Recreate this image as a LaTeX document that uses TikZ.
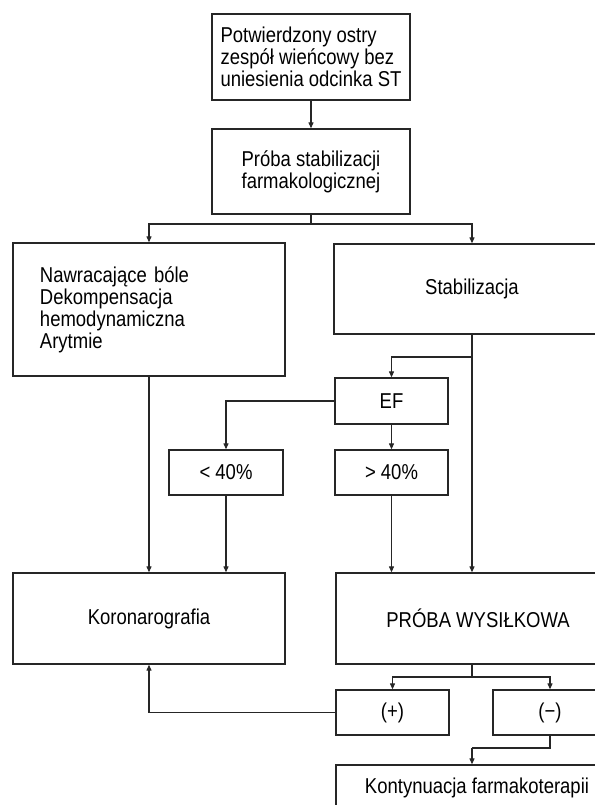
\documentclass[tikz,border=0pt]{standalone}
\usepackage{fontspec}
\setmainfont{Liberation Sans}[FakeStretch=0.86]
\usetikzlibrary{arrows.meta,positioning}
\definecolor{ln}{gray}{0.15}
\tikzset{
  box/.style={draw=ln, line width=1.3bp, inner sep=0pt, anchor=center,
    font=\fontsize{21.5bp}{22bp}\selectfont, text=black},
  conn/.style={draw=ln, line width=1.1bp},
  arr/.style={conn, -{Triangle[length=6bp,width=5bp]}}
}
\begin{document}
\begin{tikzpicture}[x=1bp,y=-1bp]
\useasboundingbox (0,0) rectangle (595,805);
\clip (0,0) rectangle (595,805);

% boxes
\node[box, minimum width=198bp, minimum height=86bp, align=left] (b1) at (311,57)
  {Potwierdzony ostry\\zespół wieńcowy bez\\uniesienia odcinka ST};
\node[box, minimum width=198bp, minimum height=85bp, align=center] (b2) at (311,171.5)
  {Próba stabilizacji\\farmakologicznej};
\node[box, minimum height=133bp, text width=218bp, inner xsep=27bp, align=left] (b3) at (149,309.5)
  {Nawracające bóle\\Dekompensacja\\hemodynamiczna\\Arytmie};
\node[box, minimum width=276bp, minimum height=90bp] (b4) at (472,289) {Stabilizacja};
\node[box, minimum width=113bp, minimum height=46bp] (ef) at (391.5,401) {EF};
\node[box, minimum width=114bp, minimum height=45bp] (lt) at (226,472.5) {< 40\%};
\node[box, minimum width=113bp, minimum height=45bp] (gt) at (391.5,472.5) {> 40\%};
\node[box, minimum width=272bp, minimum height=91bp] (koro) at (149,618.5) {Koronarografia};
\node[box, minimum width=284bp, minimum height=91bp] (proba) at (478,618.5) {PRÓBA WYSIŁKOWA};
\node[box, minimum width=113bp, minimum height=45bp] (plus) at (392.5,712.5) {(+)};
\node[box, minimum width=114bp, minimum height=45bp] (minus) at (550,712.5) {(−)};
\node[box, minimum width=282bp, minimum height=46bp] (kont) at (477,788) {Kontynuacja farmakoterapii};

% junctions
\coordinate (j1) at (311,224);
\coordinate (j2) at (472,357);
\coordinate (j3) at (472,677);
\coordinate (j4) at (472,748);

% connectors
\draw[arr] (b1) -- (b2);
\draw[conn] (b2.south) -- (j1);
\draw[arr] (j1) -| (b3.north);
\draw[arr] (j1) -| (b4.north);
\draw[arr] (b4.south) -- (b4.south |- proba.north);
\draw[arr] (j2) -| (ef.north);
\draw[arr] (ef.west) -| (lt.north);
\draw[arr] (ef.south) -- (gt.north);
\draw[arr] (b3.south) -- (koro.north);
\draw[arr] (lt.south) -- (lt.south |- koro.north);
\draw[arr] (gt.south) -- (gt.south |- proba.north);
\draw[conn] (j3 |- proba.south) -- (j3);
\draw[arr] (j3) -| (plus.north);
\draw[arr] (j3) -| (minus.north);
\draw[arr] (plus.west) -| (koro.south);
\draw[conn] (minus.south) |- (j4);
\draw[arr] (j4) -- (j4 |- kont.north);
\end{tikzpicture}
\end{document}
